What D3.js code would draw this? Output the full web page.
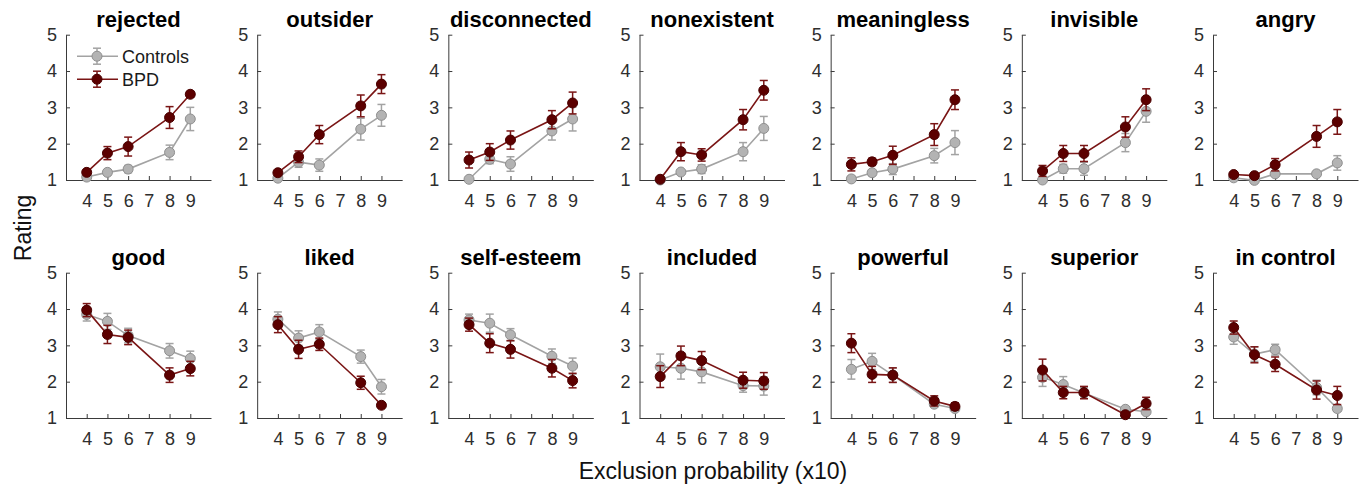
<!DOCTYPE html>
<html><head><meta charset="utf-8">
<script src="https://cdn.jsdelivr.net/npm/d3@7"></script>
<style>
body{margin:0;background:#fff;}
svg{display:block;font-family:"Liberation Sans",Arial,Helvetica,sans-serif;}
</style></head>
<body><svg id="chart" width="1365" height="491"></svg>
<script>
const titles = ["rejected","outsider","disconnected","nonexistent","meaningless","invisible","angry",
                "good","liked","self-esteem","included","powerful","superior","in control"];
const xValues = [4,5,6,8,9];
const xTicks = [4,5,6,7,8,9];
const yTicks = [1,2,3,4,5];
const seriesNames = ["Controls","BPD"];

const controlsMean = [
  [1.08,1.21,1.30,1.76,2.68],
  [1.05,1.49,1.41,2.40,2.78],
  [1.02,1.57,1.44,2.35,2.68],
  [1.00,1.22,1.30,1.78,2.42],
  [1.03,1.20,1.30,1.67,2.03],
  [1.00,1.31,1.31,2.03,2.89],
  [1.06,0.99,1.17,1.17,1.47],
  [3.85,3.66,3.27,2.85,2.64],
  [3.72,3.20,3.37,2.69,1.86],
  [3.70,3.61,3.29,2.70,2.43],
  [2.41,2.37,2.27,1.89,1.88],
  [2.34,2.56,2.18,1.38,1.26],
  [2.12,1.92,1.69,1.24,1.17],
  [3.23,2.76,2.88,1.84,1.26]
];
const controlsErr = [
  [0.04,0.07,0.10,0.20,0.32],
  [0.04,0.14,0.17,0.30,0.30],
  [0.03,0.12,0.20,0.25,0.33],
  [0.02,0.06,0.12,0.25,0.33],
  [0.03,0.08,0.15,0.20,0.33],
  [0.02,0.12,0.18,0.25,0.30],
  [0.04,0.03,0.05,0.05,0.20],
  [0.18,0.22,0.20,0.20,0.20],
  [0.20,0.20,0.20,0.18,0.20],
  [0.16,0.25,0.17,0.20,0.22],
  [0.35,0.30,0.30,0.18,0.25],
  [0.27,0.22,0.20,0.08,0.06],
  [0.25,0.22,0.15,0.05,0.06],
  [0.20,0.20,0.15,0.20,0.08]
];
const bpdMean = [
  [1.21,1.74,1.92,2.72,3.36],
  [1.20,1.64,2.25,3.04,3.64],
  [1.55,1.77,2.10,2.66,3.12],
  [1.02,1.78,1.69,2.66,3.47],
  [1.43,1.50,1.68,2.25,3.21],
  [1.25,1.73,1.73,2.46,3.21],
  [1.15,1.12,1.42,2.20,2.60],
  [3.97,3.30,3.22,2.18,2.36],
  [3.57,2.89,3.03,1.97,1.35],
  [3.57,3.06,2.89,2.37,2.03],
  [2.14,2.71,2.58,2.04,2.02],
  [3.06,2.20,2.18,1.47,1.32],
  [2.32,1.70,1.70,1.09,1.40],
  [3.49,2.74,2.48,1.77,1.62]
];
const bpdErr = [
  [0.05,0.18,0.26,0.30,0.08],
  [0.05,0.16,0.25,0.30,0.26],
  [0.22,0.23,0.25,0.25,0.30],
  [0.03,0.25,0.17,0.28,0.27],
  [0.18,0.10,0.25,0.30,0.27],
  [0.15,0.22,0.22,0.28,0.30],
  [0.05,0.04,0.17,0.30,0.34],
  [0.18,0.25,0.20,0.20,0.20],
  [0.22,0.25,0.17,0.18,0.06],
  [0.18,0.26,0.24,0.24,0.20],
  [0.30,0.27,0.25,0.22,0.23],
  [0.26,0.22,0.20,0.14,0.10],
  [0.30,0.17,0.17,0.04,0.17],
  [0.18,0.22,0.20,0.25,0.25]
];

const styles = [
  {line:"#a3a3a3", fill:"#b3b3b3", stroke:"#8f8f8f"},
  {line:"#7a1515", fill:"#5c0000", stroke:"#4a0000"}
];

const svg = d3.select("#chart");
const W = 145, H = 145.3;
const x = d3.scaleLinear().domain([3,10]).range([0,W]);
const y = d3.scaleLinear().domain([1,5]).range([H,0]);
const colLeft = d3.scaleLinear().domain([0,6]).range([66,1213]);
const rowTop = [34.7, 272.7];
const capW = 4, r = 5;
const fmt = d3.format("d");

titles.forEach((t,i)=>{
  const row = Math.floor(i/7), col = i%7;
  const g = svg.append("g").attr("transform",`translate(${colLeft(col)},${rowTop[row]})`);
  const xa = g.append("g").attr("transform",`translate(0,${H})`)
    .call(d3.axisBottom(x).tickValues(xTicks).tickFormat(fmt).tickSizeInner(-4).tickSizeOuter(0).tickPadding(14));
  const ya = g.append("g")
    .call(d3.axisLeft(y).tickValues(yTicks).tickFormat(fmt).tickSizeInner(-4).tickSizeOuter(0).tickPadding(9));
  [xa,ya].forEach(a=>{
    a.select(".domain").attr("stroke","#3a3a3a").attr("stroke-width",1);
    a.selectAll(".tick line").attr("stroke","#3a3a3a");
    a.selectAll(".tick text").attr("font-size",18).attr("fill","#2e2e2e")
      .attr("font-family",'"Liberation Sans",Arial,sans-serif');
  });
  g.append("text").attr("x",W/2).attr("y",-8).attr("text-anchor","middle")
    .attr("font-size",22).attr("font-weight","bold").attr("fill","#000").text(t);

  const data = [
    xValues.map((xv,k)=>({x:xv, m:controlsMean[i][k], e:controlsErr[i][k]})),
    xValues.map((xv,k)=>({x:xv, m:bpdMean[i][k], e:bpdErr[i][k]}))
  ];
  data.forEach((pts,s)=>{
    const st = styles[s];
    const sg = g.append("g");
    sg.append("path").datum(pts)
      .attr("d", d3.line().x(d=>x(d.x)).y(d=>y(d.m)))
      .attr("fill","none").attr("stroke",st.line).attr("stroke-width",1.6);
    const eb = sg.selectAll(".eb").data(pts).enter().append("g");
    eb.append("line").attr("x1",d=>x(d.x)).attr("x2",d=>x(d.x))
      .attr("y1",d=>y(d.m-d.e)).attr("y2",d=>y(d.m+d.e))
      .attr("stroke",st.line).attr("stroke-width",1.5);
    [-1,1].forEach(sgn=>{
      eb.append("line").attr("x1",d=>x(d.x)-capW).attr("x2",d=>x(d.x)+capW)
        .attr("y1",d=>y(d.m+sgn*d.e)).attr("y2",d=>y(d.m+sgn*d.e))
        .attr("stroke",st.line).attr("stroke-width",1.5);
    });
    sg.selectAll("circle").data(pts).enter().append("circle")
      .attr("cx",d=>x(d.x)).attr("cy",d=>y(d.m)).attr("r",r)
      .attr("fill",st.fill).attr("stroke",st.stroke).attr("stroke-width",1);
  });

  if(i===0){
    const lg = g.append("g");
    seriesNames.forEach((nm,s)=>{
      const st = styles[s];
      const ly = 21.5 + s*23;
      lg.append("line").attr("x1",11).attr("x2",52).attr("y1",ly).attr("y2",ly)
        .attr("stroke",st.line).attr("stroke-width",1.6);
      lg.append("line").attr("x1",31).attr("x2",31).attr("y1",ly-8).attr("y2",ly+8)
        .attr("stroke",st.line).attr("stroke-width",1.5);
      [-8,8].forEach(dy=>lg.append("line").attr("x1",27).attr("x2",35)
        .attr("y1",ly+dy).attr("y2",ly+dy).attr("stroke",st.line).attr("stroke-width",1.5));
      lg.append("circle").attr("cx",31).attr("cy",ly).attr("r",r)
        .attr("fill",st.fill).attr("stroke",st.stroke);
      lg.append("text").attr("x",56).attr("y",ly).attr("dy","0.36em")
        .attr("font-size",18).attr("fill","#1a1a1a").text(nm);
    });
  }
});

svg.append("text").attr("transform","translate(31,228) rotate(-90)")
  .attr("text-anchor","middle").attr("font-size",23).attr("fill","#111").text("Rating");
svg.append("text").attr("x",713).attr("y",479)
  .attr("text-anchor","middle").attr("font-size",23).attr("fill","#111").text("Exclusion probability (x10)");
</script></body></html>
